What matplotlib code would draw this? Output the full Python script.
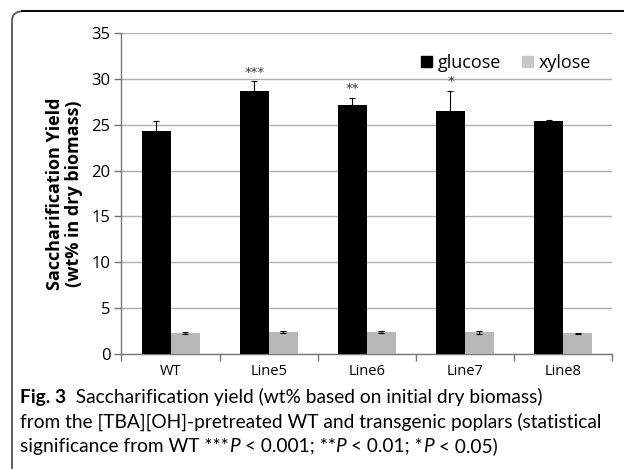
import numpy as np
import matplotlib.pyplot as plt
from matplotlib.patches import FancyBboxPatch, Patch
from matplotlib.lines import Line2D

lines = ["WT", "Line5", "Line6", "Line7", "Line8"]
glucose = [24.3, 28.7, 27.1, 26.5, 25.4]
glucose_err = [1.1, 1.0, 0.8, 2.2, 0.05]
xylose = [2.28, 2.45, 2.4, 2.4, 2.28]
xylose_err = [0.1, 0.08, 0.08, 0.18, 0.04]
stars = ["", "***", "**", "*", ""]

plt.rcParams['font.family'] = ['Open Sans', 'DejaVu Sans']

fig = plt.figure(figsize=(6.24, 4.69), dpi=100)

# rounded frame like the journal figure box
frame = FancyBboxPatch((12 / 624, -0.2), 1.2, 1.2 - 11 / 469,
                       boxstyle="round,pad=0,rounding_size=0.02",
                       transform=fig.transFigure, fill=False,
                       edgecolor="#555555", linewidth=1.3)
fig.patches.append(frame)
fig.add_artist(Line2D([22 / 624, 1.0], [1 - 11.5 / 469] * 2, color="black", lw=1.3,
                      transform=fig.transFigure))

ax = fig.add_axes([0.1947, 0.2446, 0.7863, 0.6857])
x = np.arange(len(lines))
w = 0.295
ax.bar(x - w / 2, glucose, w, color="black", zorder=3)
ax.bar(x + w / 2, xylose, w, color="#b8b8b8", zorder=3)
ax.errorbar(x - w / 2, glucose, yerr=[np.zeros(5), glucose_err], fmt="none",
            ecolor="black", elinewidth=0.8, capsize=2.5, capthick=0.8, zorder=4)
ax.errorbar(x + w / 2, xylose, yerr=xylose_err, fmt="none",
            ecolor="black", elinewidth=0.8, capsize=2, capthick=0.8, zorder=4)
for i, s in enumerate(stars):
    if s:
        ax.text(x[i] - w / 2, glucose[i] + glucose_err[i] + 0.3, s, ha="center",
                va="bottom", fontsize=9.5, color="#333333", family="DejaVu Sans")

ax.set_ylim(0, 35)
ax.set_xlim(-0.5, 4.5)
ax.set_yticks(range(0, 36, 5))
ax.yaxis.grid(True, color="#b0b0b0", lw=1.0, zorder=0)
ax.set_axisbelow(True)
ax.set_xticks(np.arange(-0.5, 5, 1))
ax.set_xticklabels([])
ax.set_xticks(x, minor=True)
ax.set_xticklabels(lines, minor=True, fontsize=10.5)
ax.tick_params(axis="x", which="minor", length=0, pad=7)
ax.tick_params(axis="x", which="major", length=5, color="#777777", width=1)
ax.tick_params(axis="y", length=5, color="#777777", width=1, labelsize=12, pad=3)
for side in ["top", "right"]:
    ax.spines[side].set_visible(False)
for side in ["left", "bottom"]:
    ax.spines[side].set_color("#777777")
    ax.spines[side].set_linewidth(1)
ax.set_ylabel("Saccharification Yield\n(wt% in dry biomass)", fontsize=13,
              fontweight="bold", labelpad=6, linespacing=1.05)

handles = [Patch(color="black"), Patch(color="#c8c8c8")]
ax.legend(handles, ["glucose", "xylose"], loc="upper right", ncol=2, frameon=False,
          fontsize=13, handlelength=0.6, handleheight=0.6, handletextpad=0.3,
          columnspacing=1.2, bbox_to_anchor=(0.99, 0.985))

# caption
cap = [
    [("Fig. 3", "bold", "normal"), ("  Saccharification yield (wt% based on initial dry biomass)", "normal", "normal")],
    [("from the [TBA][OH]-pretreated WT and transgenic poplars (statistical", "normal", "normal")],
    [("significance from WT ***", "normal", "normal"), ("P", "normal", "italic"),
     (" < 0.001; **", "normal", "normal"), ("P", "normal", "italic"),
     (" < 0.01; *", "normal", "normal"), ("P", "normal", "italic"),
     (" < 0.05)", "normal", "normal")],
]
fig.canvas.draw()
r = fig.canvas.get_renderer()
ys = [397, 421.5, 446]
for row, yy in zip(cap, ys):
    xpos = 20
    for txt, wt, st in row:
        t = fig.text(xpos / 624, 1 - yy / 469, txt, fontsize=13.8, fontweight=wt,
                     fontstyle=st, va="center", ha="left", family=["Lato", "DejaVu Sans"])
        xpos += t.get_window_extent(r).width

fig.savefig("out.png", dpi=100)
